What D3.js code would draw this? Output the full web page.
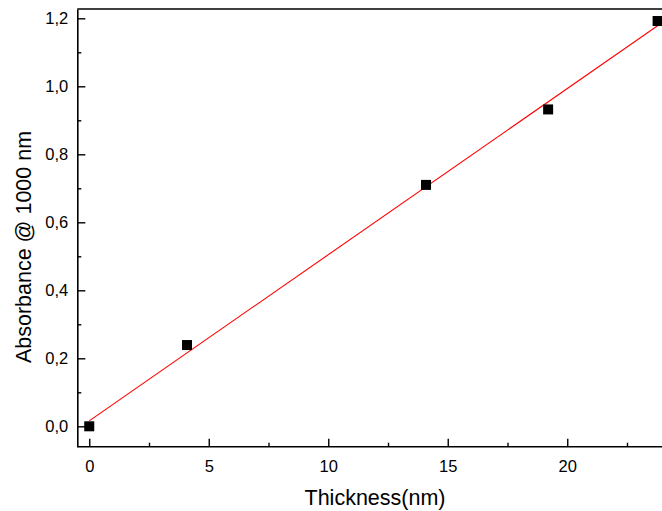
<!DOCTYPE html>
<html><head><meta charset="utf-8">
<script src="https://cdn.jsdelivr.net/npm/d3@7"></script>
<style>body{margin:0;background:#fff}svg{display:block}text{font-family:"Liberation Sans",Arial,sans-serif}</style>
</head><body>
<svg id="c" width="662" height="511"></svg>
<script>
const thickness = [0, 4.09, 14.09, 19.2, 23.78];
const absorbance = [0, 0.239, 0.71, 0.932, 1.192];
const fitX = [0, 23.78];
const fitY = [0.016, 1.178];
const xTicks = [0, 5, 10, 15, 20];
const yTicks = [0, 0.2, 0.4, 0.6, 0.8, 1.0, 1.2];
const xMinor = [2.5, 7.5, 12.5, 17.5, 22.5];
const yMinor = [0.1, 0.3, 0.5, 0.7, 0.9, 1.1];

const svg = d3.select("#c");
const L = 77.3, T = 9, B = 446.7;
const x = d3.scaleLinear().domain([-0.5, 24.3]).range([L, L + (24.8) * 23.9]);
const y = d3.scaleLinear().domain([-0.06, 1.227]).range([B, B - 1.287 * 340]);

// frame
svg.append("line").attr("x1", L).attr("x2", 662).attr("y1", T).attr("y2", T).attr("stroke", "#000").attr("stroke-width", 1.6);

const fmt = d => d3.format(".1f")(d).replace(".", ",");
const xAxis = svg.append("g").attr("transform", `translate(0,${B})`)
  .call(d3.axisBottom(x).tickValues(xTicks).tickSizeInner(-8).tickSizeOuter(0).tickPadding(14).tickFormat(d3.format("d")));
const xAxisMinor = svg.append("g").attr("transform", `translate(0,${B})`)
  .call(d3.axisBottom(x).tickValues(xMinor).tickSizeInner(-4).tickSizeOuter(0).tickFormat(""));
xAxisMinor.select(".domain").remove();
const yAxis = svg.append("g").attr("transform", `translate(${L},0)`)
  .call(d3.axisLeft(y).tickValues(yTicks).tickSizeInner(-8).tickSizeOuter(0).tickPadding(9).tickFormat(fmt));
const yAxisMinor = svg.append("g").attr("transform", `translate(${L},0)`)
  .call(d3.axisLeft(y).tickValues(yMinor).tickSizeInner(-4).tickSizeOuter(0).tickFormat(""));
yAxisMinor.select(".domain").remove();
svg.selectAll(".domain").attr("stroke-width", 1.6);
svg.selectAll(".tick line").attr("stroke-width", 1.4);
svg.selectAll(".tick text").style("font-size", "16.5px").attr("fill", "#000").style("font-family", '"Liberation Sans",Arial,sans-serif');
xAxis.select(".domain").attr("d", `M${L},0H662`);

// fit line
svg.append("path").datum(d3.zip(fitX, fitY))
  .attr("d", d3.line().x(d => x(d[0])).y(d => y(d[1])))
  .attr("stroke", "#ff0000").attr("stroke-width", 1.1).attr("fill", "none");

// points
svg.selectAll("rect.pt").data(d3.zip(thickness, absorbance)).join("rect")
  .attr("class", "pt").attr("x", d => x(d[0]) - 5).attr("y", d => y(d[1]) - 5)
  .attr("width", 10).attr("height", 10).attr("fill", "#000");

svg.append("text").attr("x", 375).attr("y", 505).attr("text-anchor", "middle")
  .style("font-size", "21.5px").text("Thickness(nm)");
svg.append("text").attr("transform", `translate(31,${247}) rotate(-90)`).attr("text-anchor", "middle")
  .style("font-size", "21.5px").text("Absorbance @ 1000 nm");
</script>
</body></html>
